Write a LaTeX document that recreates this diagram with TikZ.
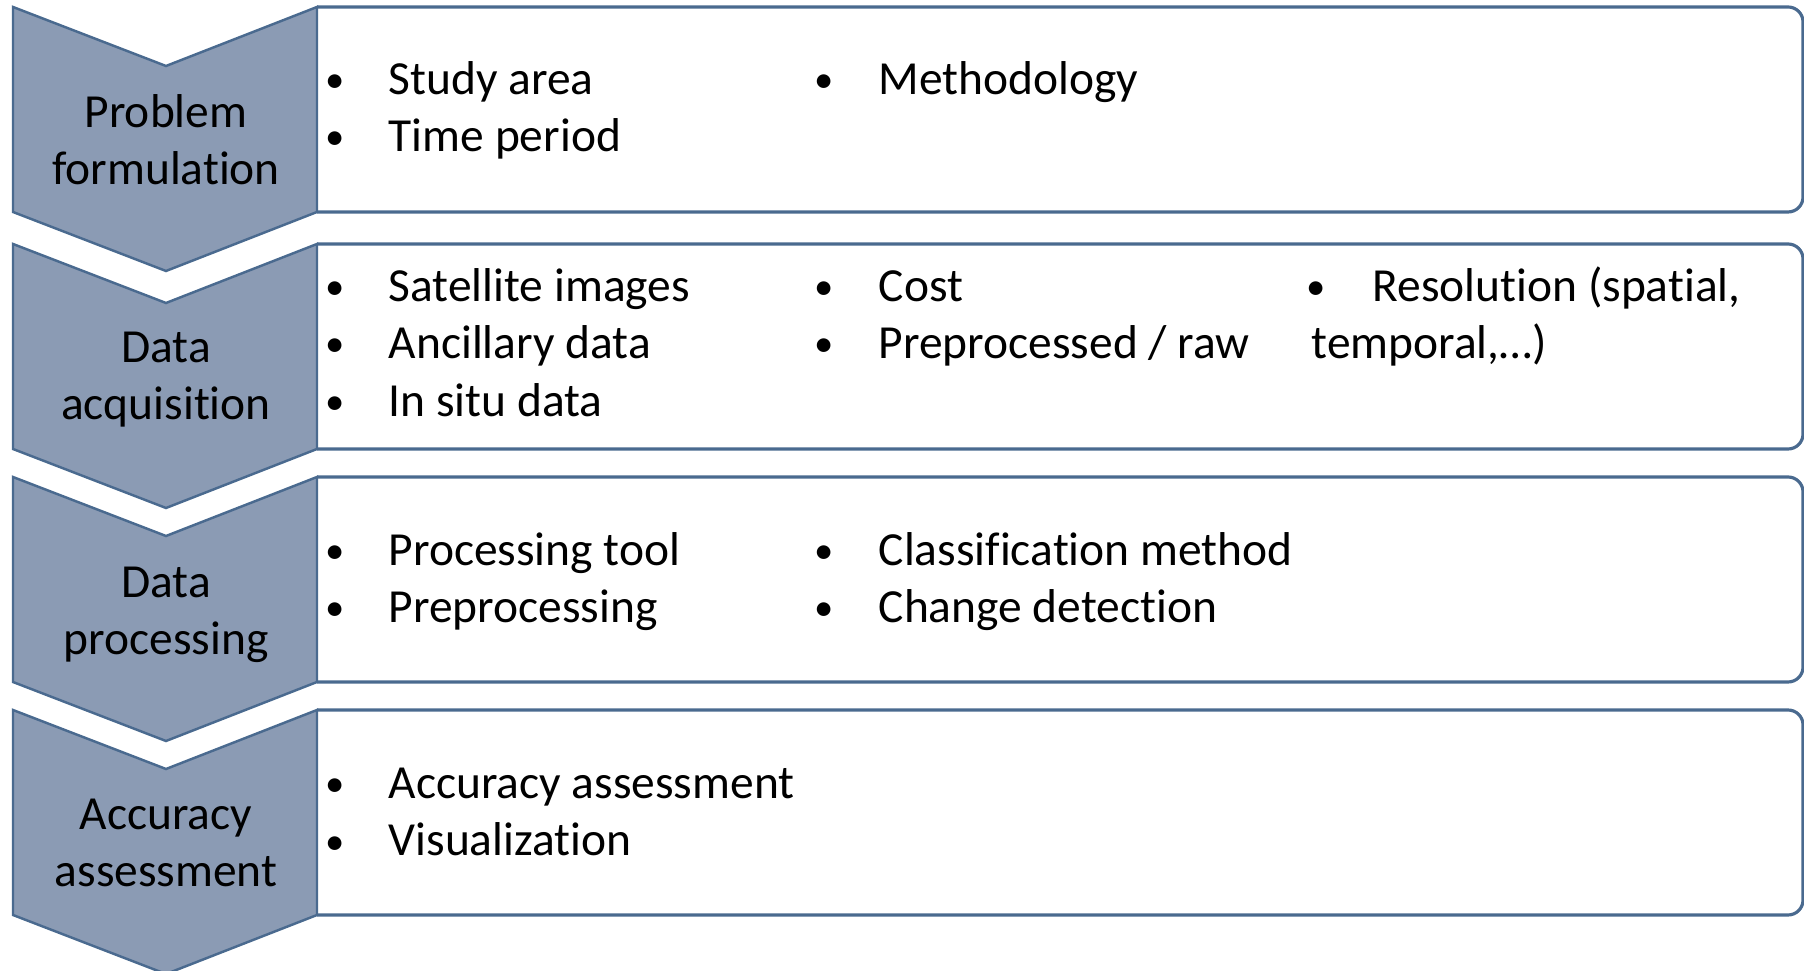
\documentclass[tikz,border=0pt]{standalone}
\usepackage{fontspec}
\setmainfont{Carlito}[Ligatures=NoCommon]
\definecolor{stepfill}{HTML}{8B9BB4}
\definecolor{stepline}{HTML}{4A6A8F}

\begin{document}
\begin{tikzpicture}[
    x=0.01cm, y=-0.01cm,
    chevron/.style={fill=stepfill, draw=stepline, line width=0.7pt, line join=miter},
    panel/.style={draw=stepline, line width=0.9pt, fill=white},
    txt/.style={font=\fontsize{13.5}{16.2}\selectfont, inner sep=0pt},
    steplabel/.style={txt, align=center},
    bul/.style={font=\fontsize{11}{13}\selectfont, inner sep=0pt, anchor=base},
    item/.style={txt, anchor=base west}
]
    \useasboundingbox (0,0) rectangle (1804,971);

    % Kaesten und Pfeile der vier Schritte
    \foreach \t in {7,244,477,710} {
        \draw[panel] (317,\t) [rounded corners=0.15cm] -- (1803,\t) -- (1803,\t+205) [sharp corners] -- (317,\t+205);
        \draw[chevron] (13,\t) -- (166,\t+59) -- (317,\t) -- (317,\t+205) -- (166,\t+264) -- (13,\t+205) -- cycle;
    }

    % Namen der Schritte
    \node[steplabel] (pf) at (166,140) {Problem\\formulation};
    \node[steplabel] (da) at (166,380) {Data\\acquisition};
    \node[steplabel] (dp) at (166,615) {Data\\processing};
    \node[steplabel] (aa) at (166,843) {Accuracy\\assessment};

    % erste Spalte
    \foreach \y/\entry [count=\i] in {95/Study area, 152/Time period,
        302/Satellite images, 359/Ancillary data, 417/In situ data,
        566/Processing tool, 623/Preprocessing,
        799/Accuracy assessment, 856/Visualization} {
        \node[bul] (bA\i) at (335,\y-2) {\textbullet};
        \node[item] (colA\i) at (388,\y) {\entry};
    }

    % zweite Spalte
    \foreach \y/\entry [count=\i] in {95/Methodology,
        302/Cost, 359/{Preprocessed / raw},
        566/Classification method, 623/Change detection} {
        \node[bul] (bB\i) at (824,\y-2) {\textbullet};
        \node[item] (colB\i) at (878,\y) {\entry};
    }

    % dritte Spalte
    \node[bul] (bC1) at (1316,300) {\textbullet};
    \node[item] (colC1) at (1372,302) {Resolution (spatial,};
    \node[item] (colC2) at (1311,359) {temporal,…)};
\end{tikzpicture}
\end{document}
